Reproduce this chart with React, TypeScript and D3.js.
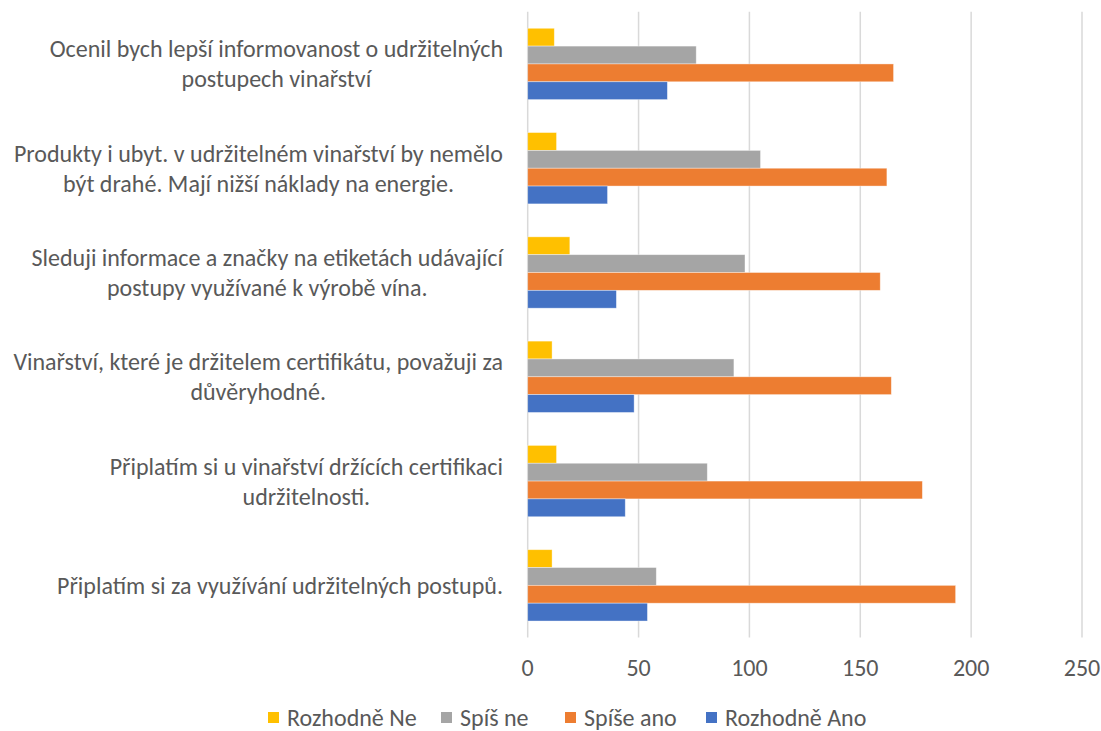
import React from "react";
import * as d3 from "d3";

const categories = [
  "Ocenil bych lepší informovanost o udržitelných postupech vinařství",
  "Produkty i ubyt. v udržitelném vinařství by nemělo být drahé. Mají nižší náklady na energie.",
  "Sleduji informace a značky na etiketách udávající postupy využívané k výrobě vína.",
  "Vinařství, které je držitelem certifikátu, považuji za důvěryhodné.",
  "Připlatím si u vinařství držících certifikaci udržitelnosti.",
  "Připlatím si za využívání udržitelných postupů.",
];

const labelLines = [
  ["Ocenil bych lepší informovanost o udržitelných", "postupech vinařství"],
  ["Produkty i ubyt. v udržitelném vinařství by nemělo", "být drahé. Mají nižší náklady na energie."],
  ["Sleduji informace a značky na etiketách udávající", "postupy využívané k výrobě vína."],
  ["Vinařství, které je držitelem certifikátu, považuji za", "důvěryhodné."],
  ["Připlatím si u vinařství držících certifikaci", "udržitelnosti."],
  ["Připlatím si za využívání udržitelných postupů."],
];

const seriesNames = ["Rozhodně Ne", "Spíš ne", "Spíše ano", "Rozhodně Ano"];
const rozhodneNe = [12, 13, 19, 11, 13, 11];
const spisNe = [76, 105, 98, 93, 81, 58];
const spiseAno = [165, 162, 159, 164, 178, 193];
const rozhodneAno = [63, 36, 40, 48, 44, 54];
const seriesValues = [rozhodneNe, spisNe, spiseAno, rozhodneAno];
const xTicks = [0, 50, 100, 150, 200, 250];

const colors = ["#FFC000", "#A5A5A5", "#ED7D31", "#4472C4"];

const FONT = "Carlito, Calibri, Lato, sans-serif";
const TEXT = "#595959";
const FS = 24;

let measureCtx: CanvasRenderingContext2D | null = null;
function textWidth(s: string): number {
  if (!measureCtx) {
    const c = document.createElement("canvas");
    measureCtx = c.getContext("2d");
  }
  if (!measureCtx) return s.length * FS * 0.45;
  measureCtx.font = `${FS}px ${FONT}`;
  return measureCtx.measureText(s).width;
}

export default function App() {
  const x = d3.scaleLinear().domain([0, 250]).range([527.7, 1082]);
  const y = d3
    .scaleBand<string>()
    .domain(categories)
    .range([11.8, 637.5])
    .paddingInner(0.316)
    .paddingOuter(0.158);
  const ySub = d3
    .scaleBand<string>()
    .domain(seriesNames)
    .range([0, y.bandwidth()])
    .padding(0);

  const labelRight = 503;
  const lineH = 30;

  const legendItems = [
    { x: 268, name: seriesNames[0] },
    { x: 441, name: seriesNames[1] },
    { x: 565, name: seriesNames[2] },
    { x: 706, name: seriesNames[3] },
  ];

  return (
    <svg
      width={1101}
      height={731}
      style={{ position: "absolute", left: 0, top: 0, background: "#fff" }}
      fontFamily={FONT}
    >
      {xTicks.map((t) => (
        <line
          key={t}
          x1={x(t)}
          x2={x(t)}
          y1={11.8}
          y2={637.5}
          stroke="#D9D9D9"
          strokeWidth={1.5}
        />
      ))}
      {categories.map((c, ci) => (
        <g key={c} transform={`translate(0,${y(c)})`}>
          {seriesNames.map((s, si) => (
            <rect
              key={s}
              x={x(0)}
              y={ySub(s)}
              width={x(seriesValues[si][ci]) - x(0)}
              height={ySub.bandwidth()}
              fill={colors[si]}
              stroke="#fff"
              strokeOpacity={0.5}
              strokeWidth={0.75}
            />
          ))}
        </g>
      ))}
      {categories.map((c, ci) => {
        const cy = (y(c) as number) + y.bandwidth() / 2;
        const lines = labelLines[ci];
        const maxW = Math.max(...lines.map(textWidth));
        const cx = labelRight - maxW / 2;
        const y0 = cy - ((lines.length - 1) * lineH) / 2;
        return (
          <g key={c}>
            {lines.map((ln, li) => (
              <text
                key={li}
                x={cx}
                y={y0 + li * lineH}
                textAnchor="middle"
                dominantBaseline="central"
                fontSize={FS}
                fill={TEXT}
              >
                {ln}
              </text>
            ))}
          </g>
        );
      })}
      {xTicks.map((t) => (
        <text
          key={t}
          x={x(t)}
          y={667}
          textAnchor="middle"
          dominantBaseline="central"
          fontSize={FS}
          fill={TEXT}
        >
          {t}
        </text>
      ))}
      {legendItems.map((l, i) => (
        <g key={l.name}>
          <rect x={l.x} y={712} width={11} height={11} fill={colors[i]} />
          <text
            x={l.x + 19}
            y={717.5}
            dominantBaseline="central"
            fontSize={FS}
            fill={TEXT}
          >
            {l.name}
          </text>
        </g>
      ))}
    </svg>
  );
}
